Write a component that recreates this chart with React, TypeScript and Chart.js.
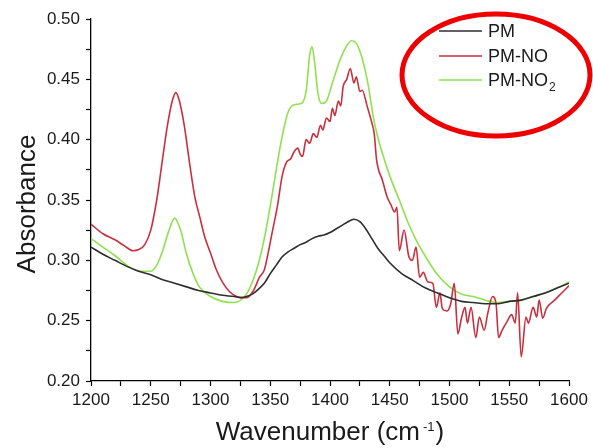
import React, { useEffect, useRef } from 'react';
import { Chart, registerables } from 'chart.js';

Chart.register(...registerables);

// ---- Data ----
const pmWavenumber = [1200, 1210, 1220, 1230, 1240, 1250, 1260, 1270, 1280, 1290, 1300, 1310, 1320, 1325, 1330, 1335, 1340, 1345, 1350, 1355, 1360, 1365, 1370, 1375, 1380, 1385, 1390, 1395, 1400, 1405, 1410, 1415, 1420, 1425, 1430, 1435, 1440, 1445, 1450, 1460, 1470, 1480, 1490, 1500, 1510, 1520, 1530, 1540, 1550, 1560, 1570, 1580, 1590, 1600];
const pmAbsorbance = [0.311, 0.305, 0.300, 0.295, 0.291, 0.288, 0.284, 0.281, 0.278, 0.275, 0.273, 0.271, 0.270, 0.269, 0.270, 0.272, 0.276, 0.281, 0.289, 0.296, 0.303, 0.307, 0.310, 0.313, 0.315, 0.318, 0.320, 0.321, 0.323, 0.326, 0.329, 0.332, 0.334, 0.332, 0.326, 0.318, 0.310, 0.304, 0.298, 0.289, 0.283, 0.277, 0.273, 0.269, 0.266, 0.265, 0.264, 0.264, 0.266, 0.267, 0.270, 0.273, 0.277, 0.281];

const pmNoWavenumber = [1200, 1210, 1220, 1228, 1235, 1240, 1245, 1250, 1255, 1260, 1264, 1268, 1271, 1274, 1278, 1283, 1287, 1291, 1295, 1300, 1305, 1310, 1316, 1322, 1330, 1336, 1341, 1345, 1348, 1352, 1356, 1360, 1364, 1367, 1370, 1373, 1375, 1377, 1380, 1383, 1386, 1389, 1392, 1394, 1397, 1400, 1402, 1404, 1407, 1409, 1411, 1414, 1417, 1420, 1422, 1425, 1427, 1431, 1435, 1437, 1439, 1444, 1448, 1451, 1454, 1456, 1458, 1462, 1466, 1469, 1472, 1475, 1478, 1482, 1486, 1489, 1492, 1494, 1498, 1501, 1504, 1507, 1510, 1513, 1515, 1518, 1522, 1525, 1529, 1532, 1536, 1539, 1541, 1544, 1548, 1552, 1555, 1557, 1560, 1564, 1566, 1570, 1573, 1575, 1578, 1581, 1588, 1595, 1600];
const pmNoAbsorbance = [0.330, 0.322, 0.317, 0.312, 0.308, 0.309, 0.313, 0.325, 0.350, 0.385, 0.412, 0.432, 0.439, 0.432, 0.412, 0.377, 0.352, 0.336, 0.320, 0.306, 0.292, 0.282, 0.274, 0.270, 0.269, 0.275, 0.286, 0.292, 0.305, 0.325, 0.345, 0.370, 0.382, 0.384, 0.390, 0.393, 0.388, 0.386, 0.400, 0.397, 0.405, 0.402, 0.412, 0.408, 0.418, 0.415, 0.426, 0.420, 0.432, 0.428, 0.444, 0.450, 0.459, 0.447, 0.452, 0.440, 0.441, 0.428, 0.414, 0.405, 0.383, 0.366, 0.352, 0.346, 0.340, 0.344, 0.308, 0.325, 0.303, 0.300, 0.311, 0.286, 0.290, 0.282, 0.281, 0.261, 0.273, 0.260, 0.258, 0.264, 0.281, 0.239, 0.252, 0.261, 0.248, 0.261, 0.236, 0.253, 0.242, 0.256, 0.270, 0.264, 0.236, 0.242, 0.249, 0.255, 0.248, 0.273, 0.220, 0.253, 0.248, 0.261, 0.253, 0.267, 0.252, 0.260, 0.267, 0.274, 0.279];

const pmNo2Wavenumber = [1200, 1210, 1220, 1230, 1240, 1250, 1255, 1260, 1265, 1270, 1275, 1280, 1285, 1290, 1300, 1310, 1320, 1330, 1335, 1340, 1345, 1350, 1355, 1360, 1365, 1370, 1376, 1380, 1383, 1385, 1387, 1390, 1393, 1397, 1402, 1408, 1413, 1418, 1422, 1427, 1432, 1436, 1440, 1445, 1450, 1458, 1465, 1472, 1480, 1490, 1500, 1510, 1520, 1530, 1540, 1550, 1560, 1570, 1580, 1590, 1600];
const pmNo2Absorbance = [0.318, 0.311, 0.304, 0.296, 0.291, 0.291, 0.296, 0.308, 0.324, 0.335, 0.325, 0.305, 0.290, 0.279, 0.270, 0.266, 0.265, 0.272, 0.282, 0.297, 0.318, 0.345, 0.375, 0.403, 0.423, 0.429, 0.430, 0.440, 0.470, 0.477, 0.465, 0.438, 0.430, 0.432, 0.447, 0.465, 0.476, 0.482, 0.480, 0.467, 0.445, 0.420, 0.402, 0.385, 0.370, 0.350, 0.332, 0.317, 0.303, 0.288, 0.278, 0.272, 0.270, 0.267, 0.265, 0.266, 0.267, 0.270, 0.273, 0.277, 0.282];

const seriesNames = ['PM', 'PM-NO', 'PM-NO2'];
const xTickLabels = [1200, 1250, 1300, 1350, 1400, 1450, 1500, 1550, 1600];
const yTickLabels = ['0.20', '0.25', '0.30', '0.35', '0.40', '0.45', '0.50'];

const COLORS = ['#2e2e2e', '#c9303e', '#8fe14f'];
const FONT = '"Liberation Sans", Arial, sans-serif';

const zip = (xs: number[], ys: number[]) => xs.map((x, i) => ({ x, y: ys[i] }));

const overlayPlugin = {
  id: 'overlay',
  afterDraw(chart: any) {
    const ctx = chart.ctx as CanvasRenderingContext2D;
    ctx.save();
    ctx.fillStyle = '#1a1a1a';
    // Y title
    ctx.save();
    ctx.translate(35, 204);
    ctx.rotate(-Math.PI / 2);
    ctx.font = `26px ${FONT}`;
    ctx.textAlign = 'center';
    ctx.textBaseline = 'alphabetic';
    ctx.fillText('Absorbance', 0, 0);
    ctx.restore();

    // X title with superscript
    const main1 = 'Wavenumber (cm';
    const sup = '-1';
    const main2 = ')';
    ctx.font = `26px ${FONT}`;
    const w1 = ctx.measureText(main1).width;
    const w3 = ctx.measureText(main2).width;
    ctx.font = `13px ${FONT}`;
    const w2 = ctx.measureText(sup).width;
    const gap = 3;
    const total = w1 + gap + w2 + 1 + w3;
    let x = 330 - total / 2;
    const base = 440;
    ctx.textAlign = 'left';
    ctx.textBaseline = 'alphabetic';
    ctx.font = `26px ${FONT}`;
    ctx.fillText(main1, x, base);
    x += w1 + gap;
    ctx.font = `13px ${FONT}`;
    ctx.fillText(sup, x, base - 9);
    x += w2 + 1;
    ctx.font = `26px ${FONT}`;
    ctx.fillText(main2, x, base);

    // Legend
    const legendY = [31, 56, 80];
    chart.data.datasets.forEach((ds: any, i: number) => {
      const y = legendY[i];
      ctx.strokeStyle = ds.borderColor;
      ctx.lineWidth = 1.6;
      ctx.beginPath();
      ctx.moveTo(439, y);
      ctx.lineTo(482, y);
      ctx.stroke();
      ctx.fillStyle = '#1a1a1a';
      ctx.font = `18px ${FONT}`;
      ctx.textBaseline = 'middle';
      const name: string = ds.label;
      if (name.endsWith('2')) {
        const head = name.slice(0, -1);
        ctx.fillText(head, 488, y + 1);
        const hw = ctx.measureText(head).width;
        ctx.font = `12px ${FONT}`;
        ctx.fillText('2', 488 + hw + 1, y + 8);
      } else {
        ctx.fillText(name, 488, y + 1);
      }
    });

    // Red annotation ellipse
    ctx.strokeStyle = '#ee0000';
    ctx.lineWidth = 5;
    ctx.beginPath();
    ctx.ellipse(496, 75, 94, 61, 0, 0, Math.PI * 2);
    ctx.stroke();
    ctx.restore();
  },
};

export default function App() {
  const canvasRef = useRef<HTMLCanvasElement | null>(null);

  useEffect(() => {
    if (!canvasRef.current) return;
    const datasets = [
      zip(pmWavenumber, pmAbsorbance),
      zip(pmNoWavenumber, pmNoAbsorbance),
      zip(pmNo2Wavenumber, pmNo2Absorbance),
    ].map((data, i) => ({
      label: seriesNames[i],
      data,
      borderColor: COLORS[i],
      backgroundColor: COLORS[i],
      borderWidth: 1.6,
      pointRadius: 0,
      fill: false,
      cubicInterpolationMode: 'monotone' as const,
    }));

    const chart = new Chart(canvasRef.current, {
      type: 'line',
      data: { datasets },
      plugins: [overlayPlugin],
      options: {
        animation: false,
        responsive: false,
        maintainAspectRatio: false,
        devicePixelRatio: 1,
        layout: { padding: { top: 19, right: 24, left: 0, bottom: 0 } },
        plugins: {
          legend: { display: false },
          tooltip: { enabled: false },
          title: { display: false },
        },
        scales: {
          x: {
            type: 'linear',
            min: 1200,
            max: 1600,
            afterFit: (s: any) => { s.height = 67; },
            ticks: {
              stepSize: 25,
              autoSkip: false,
              maxRotation: 0,
              padding: 4,
              color: '#1a1a1a',
              font: { family: FONT, size: 17 },
              callback: (v: any) => (xTickLabels.includes(Number(v)) ? String(v) : ''),
            },
            grid: {
              drawOnChartArea: false,
              drawTicks: true,
              tickLength: 5,
              tickColor: '#000',
              tickWidth: 1.2,
            },
            border: { display: true, color: '#000', width: 1.3 },
          },
          y: {
            type: 'linear',
            min: 0.2,
            max: 0.5,
            afterFit: (s: any) => { s.width = 91; },
            ticks: {
              stepSize: 0.025,
              autoSkip: false,
              padding: 6,
              color: '#1a1a1a',
              font: { family: FONT, size: 17 },
              callback: (v: any) => {
                const s = Number(v).toFixed(2);
                const isMajor = Math.round(Number(v) * 1000) % 50 === 0;
                return isMajor && yTickLabels.includes(s) ? s : '';
              },
            },
            grid: {
              drawOnChartArea: false,
              drawTicks: true,
              tickLength: 5,
              tickColor: '#000',
              tickWidth: 1.2,
            },
            border: { display: true, color: '#000', width: 1.3 },
          },
        },
      },
    });
    return () => chart.destroy();
  }, []);

  return (
    <div style={{ position: 'fixed', left: 0, top: 0, width: 593, height: 448, background: '#fff' }}>
      <canvas ref={canvasRef} width={593} height={448} style={{ width: 593, height: 448, display: 'block' }} />
    </div>
  );
}
